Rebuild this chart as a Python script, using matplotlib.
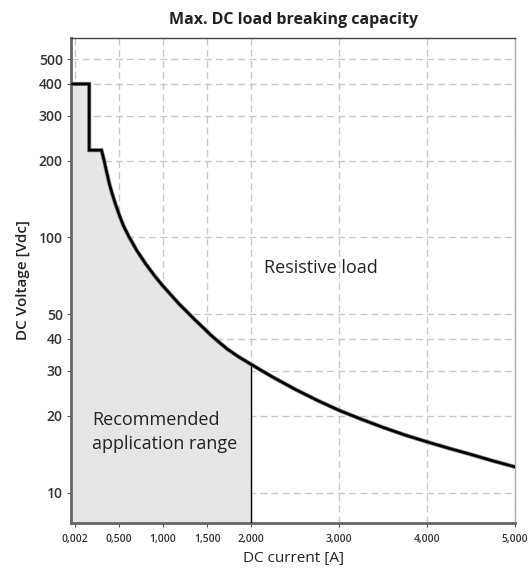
import numpy as np
import matplotlib.pyplot as plt
from matplotlib.ticker import FixedLocator, NullLocator

# Valores
current = [-0.045, 0.16, 0.16, 0.30, 0.31, 0.33, 0.35, 0.39, 0.42, 0.45, 0.50,
           0.55, 0.61, 0.70, 0.80, 0.90, 0.99, 1.10, 1.19, 1.25, 1.35, 1.45,
           1.54, 1.63, 1.73, 1.85, 2.00, 2.25, 2.50, 2.75, 3.00, 3.25, 3.50,
           3.75, 4.00, 4.25, 4.50, 4.75, 5.00]
voltage = [400, 400, 220, 220, 213, 200, 186, 162, 149, 138, 123,
           111, 101, 89, 79, 71, 65, 59, 54.5, 52, 48, 44.5,
           41.5, 39, 36.5, 34.2, 31.8, 28.3, 25.4, 23, 21, 19.4, 18,
           16.8, 15.8, 14.9, 14.1, 13.3, 12.6]

x_ticks = [0.002, 0.5, 1.0, 1.5, 2.0, 3.0, 4.0, 5.0]
x_labels = ['0,002', '0,500', '1,000', '1,500', '2,000', '3,000', '4,000', '5,000']
y_ticks = [10, 20, 30, 40, 50, 100, 200, 300, 400, 500]
range_limit = 2.0

font = ['Open Sans', 'DejaVu Sans']
plt.rcParams['font.family'] = font

fig = plt.figure(figsize=(5.31, 5.69), dpi=100)
ax = fig.add_axes([0.134, 0.081, 0.836, 0.852])

ax.set_yscale('log')
ax.set_xlim(-0.045, 5.0)
ax.set_ylim(7.6, 605)

x = np.array(current)
y = np.array(voltage)

# zona recomendada (sombreada) hasta 2 A
mask = x <= range_limit
ax.fill_between(x[mask], 1, y[mask], color='#e6e6e6', lw=0, zorder=1)
v_lim = y[x == range_limit][0]
ax.plot([range_limit, range_limit], [1, v_lim], color='black', lw=1.0, zorder=3)

# curva límite
ax.plot(x, y, color='#888888', lw=3.0, zorder=3, solid_joinstyle='miter')
ax.plot(x, y, color='black', lw=1.9, zorder=4, solid_joinstyle='miter')

ax.xaxis.set_major_locator(FixedLocator(x_ticks))
ax.set_xticklabels(x_labels)
ax.yaxis.set_major_locator(FixedLocator(y_ticks))
ax.yaxis.set_minor_locator(NullLocator())
ax.set_yticklabels([str(v) for v in y_ticks])

ax.grid(True, which='major', color='#c8c8c8', ls=(0, (5, 3)), lw=1.0, zorder=0)
ax.set_axisbelow(True)

ax.tick_params(axis='x', labelsize=7.5, colors='#555555', labelcolor='#333333', length=3, pad=5)
ax.tick_params(axis='y', labelsize=10, colors='#555555', labelcolor='#333333', length=3, pad=3)
for lbl in ax.get_xticklabels() + ax.get_yticklabels():
    lbl.set_fontweight('semibold')

for side in ['left', 'bottom']:
    ax.spines[side].set_color('#666666')
    ax.spines[side].set_linewidth(2.0)
ax.spines['top'].set_color('#444444')
ax.spines['top'].set_linewidth(1.0)
ax.spines['right'].set_color('#aaaaaa')
ax.spines['right'].set_linewidth(1.0)

ax.text(2.15, 76, 'Resistive load', fontsize=13, color='#222222', va='center', ha='left')
ax.text(0.19, 17.3, 'Recommended\napplication range', fontsize=13, color='#222222',
        va='center', ha='left', linespacing=1.45)

ax.set_title('Max. DC load breaking capacity', fontsize=11.5, fontweight='bold',
             color='#222222', pad=10)
ax.set_xlabel('DC current [A]', fontsize=11, color='#222222', labelpad=4)
ax.set_ylabel('DC Voltage [Vdc]', fontsize=11, fontweight='semibold', color='#222222', labelpad=6)

fig.savefig('out.png', dpi=100)
